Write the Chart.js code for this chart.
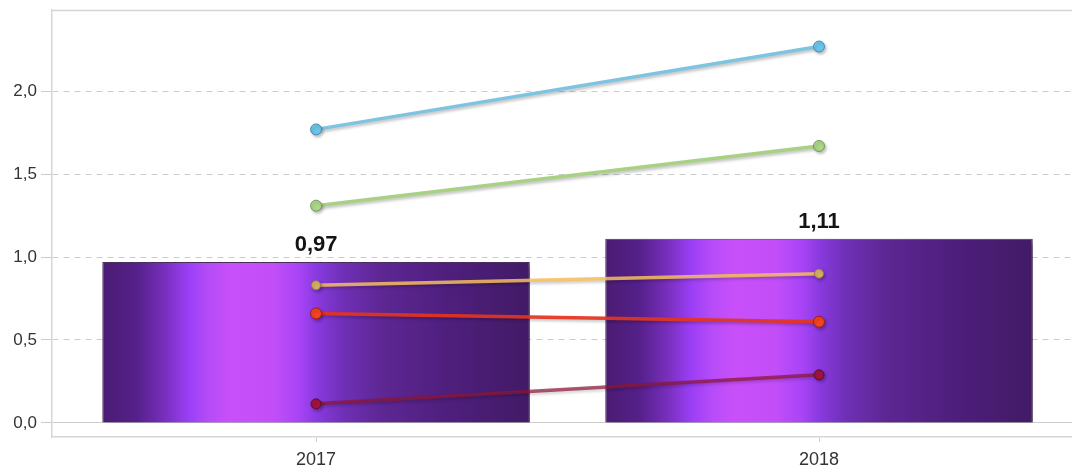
<!DOCTYPE html>
<html>
<head>
<meta charset="utf-8">
<script src="https://cdn.jsdelivr.net/npm/chart.js@4.4.1/dist/chart.umd.min.js"></script>
<style>
  html, body { margin: 0; padding: 0; background: #ffffff; overflow: hidden; }
  #wrap { position: relative; width: 1072px; height: 469px; }
</style>
</head>
<body>
<div id="wrap"><canvas id="c"></canvas></div>
<script>
// ---- data ----
const categories = ['2017', '2018'];
const barValues = [0.97, 1.11];
const seriesBlue = [1.77, 2.27];
const seriesGreen = [1.31, 1.67];
const seriesOrange = [0.83, 0.90];
const seriesRed = [0.66, 0.61];
const seriesMaroon = [0.115, 0.29];
const yTicks = [0, 0.5, 1.0, 1.5, 2.0];

const toXY = arr => arr.map((v, i) => ({ x: i, y: v }));
const fmt = v => v.toFixed(2).replace('.', ',');

function barGradient(ctx) {
  const chart = ctx.chart;
  const xs = chart.scales.x;
  if (!chart.chartArea || !xs || ctx.raw === undefined) return '#5a2390';
  const cx = xs.getPixelForValue(ctx.raw.x);
  const half = Math.abs(xs.getPixelForValue(1) - xs.getPixelForValue(0)) * 0.85 / 2;
  const g = chart.ctx.createLinearGradient(cx - half, 0, cx + half, 0);
  g.addColorStop(0.00, '#4a1c72');
  g.addColorStop(0.08, '#55208a');
  g.addColorStop(0.15, '#7a30c0');
  g.addColorStop(0.20, '#9a3ef5');
  g.addColorStop(0.25, '#b64cf8');
  g.addColorStop(0.30, '#c850fa');
  g.addColorStop(0.40, '#c24ef8');
  g.addColorStop(0.46, '#a844f6');
  g.addColorStop(0.50, '#8a3ae0');
  g.addColorStop(0.56, '#7030b8');
  g.addColorStop(0.65, '#5e2794');
  g.addColorStop(0.80, '#4f1f7e');
  g.addColorStop(1.00, '#421a66');
  return g;
}

const lineDs = (data, line, fill, border, radius, order) => ({
  type: 'line',
  data: toXY(data),
  borderColor: line,
  borderWidth: 3.5,
  backgroundColor: fill,
  pointBackgroundColor: fill,
  pointBorderColor: border,
  pointBorderWidth: 1,
  pointRadius: radius,
  tension: 0,
  order: order,
  clip: false
});

const shadowPlugin = {
  id: 'shadows',
  beforeDatasetDraw(chart, args) {
    const c = chart.ctx;
    c.save();
    if (args.meta.type === 'bar') {
      c.shadowColor = 'rgba(0,0,0,0.40)';
      c.shadowBlur = 5;
      c.shadowOffsetX = 3;
      c.shadowOffsetY = 3;
    } else {
      c.shadowColor = 'rgba(0,0,0,0.25)';
      c.shadowBlur = 3;
      c.shadowOffsetX = 1.5;
      c.shadowOffsetY = 2;
    }
  },
  afterDatasetDraw(chart) {
    chart.ctx.restore();
  }
};

const framePlugin = {
  id: 'frame',
  beforeDatasetsDraw(chart) {
    const c = chart.ctx, a = chart.chartArea;
    c.save();
    c.strokeStyle = '#d6d6d6';
    c.lineWidth = 1.5;
    c.beginPath();
    c.moveTo(a.left, a.top + 0.5);
    c.lineTo(a.right, a.top + 0.5);
    c.stroke();
    c.restore();
  },
  afterDatasetsDraw(chart) {
    const c = chart.ctx;
    const meta = chart.getDatasetMeta(0);
    c.save();
    c.font = 'bold 22px "Liberation Sans", Arial, sans-serif';
    c.fillStyle = '#141414';
    c.textAlign = 'center';
    c.textBaseline = 'alphabetic';
    meta.data.forEach((el, i) => {
      c.fillText(fmt(barValues[i]), el.x, el.y - 11);
    });
    c.restore();
  }
};

new Chart(document.getElementById('c'), {
  type: 'bar',
  data: {
    datasets: [
      {
        type: 'bar',
        data: toXY(barValues),
        backgroundColor: barGradient,
        borderColor: 'rgba(45,12,70,0.85)',
        borderWidth: 1,
        categoryPercentage: 1,
        barPercentage: 0.85,
        order: 10
      },
      lineDs(seriesBlue, '#7ec4e0', '#6cc4ea', '#4a8fb0', 5.5, 1),
      lineDs(seriesGreen, '#a8d184', '#aad88a', '#7a9a60', 5.5, 2),
      lineDs(seriesOrange, 'rgba(246,190,95,0.85)', '#d6b064', '#9a7c44', 4.5, 3),
      lineDs(seriesRed, 'rgba(228,52,32,0.92)', '#f24422', '#a02010', 5.5, 4),
      lineDs(seriesMaroon, 'rgba(140,22,52,0.72)', '#a0143e', '#5e1028', 5, 5)
    ]
  },
  options: {
    responsive: true,
    maintainAspectRatio: false,
    animation: false,
    events: [],
    layout: { autoPadding: false, padding: { top: 10, left: 0, right: 0, bottom: 0 } },
    plugins: {
      legend: { display: false },
      tooltip: { enabled: false },
      title: { display: false }
    },
    scales: {
      x: {
        type: 'linear',
        offset: false,
        min: -0.525,
        max: 1.503,
        afterBuildTicks: s => { s.ticks = categories.map((_, i) => ({ value: i })); },
        afterFit: s => { s.height = 32; s.paddingLeft = 0; s.paddingRight = 0; },
        grid: {
          display: true,
          offset: false,
          drawOnChartArea: false,
          drawTicks: true,
          tickLength: 5,
          color: '#cfcfcf',
          lineWidth: 1
        },
        border: { display: true, color: '#d6d6d6', width: 1.5 },
        ticks: {
          autoSkip: false,
          maxRotation: 0,
          padding: 7,
          color: '#333333',
          font: { family: '"Liberation Sans", Arial, sans-serif', size: 18 },
          callback: v => categories[v]
        }
      },
      y: {
        min: -0.085,
        max: 2.49,
        afterBuildTicks: s => { s.ticks = yTicks.map(v => ({ value: v })); },
        afterFit: s => { s.width = 52; s.paddingTop = 0; s.paddingBottom = 0; },
        grid: {
          display: true,
          drawOnChartArea: true,
          drawTicks: true,
          tickLength: 11,
          color: '#cccccc',
          tickColor: '#cccccc',
          lineWidth: 1
        },
        border: {
          display: true,
          color: '#d6d6d6',
          width: 1.5,
          dash: ctx => (ctx.tick && ctx.tick.value === 0) ? [] : [6, 5]
        },
        ticks: {
          padding: 4,
          color: '#333333',
          font: { family: '"Liberation Sans", Arial, sans-serif', size: 17 },
          callback: v => v.toFixed(1).replace('.', ',')
        }
      }
    }
  },
  plugins: [shadowPlugin, framePlugin]
});
</script>
</body>
</html>
